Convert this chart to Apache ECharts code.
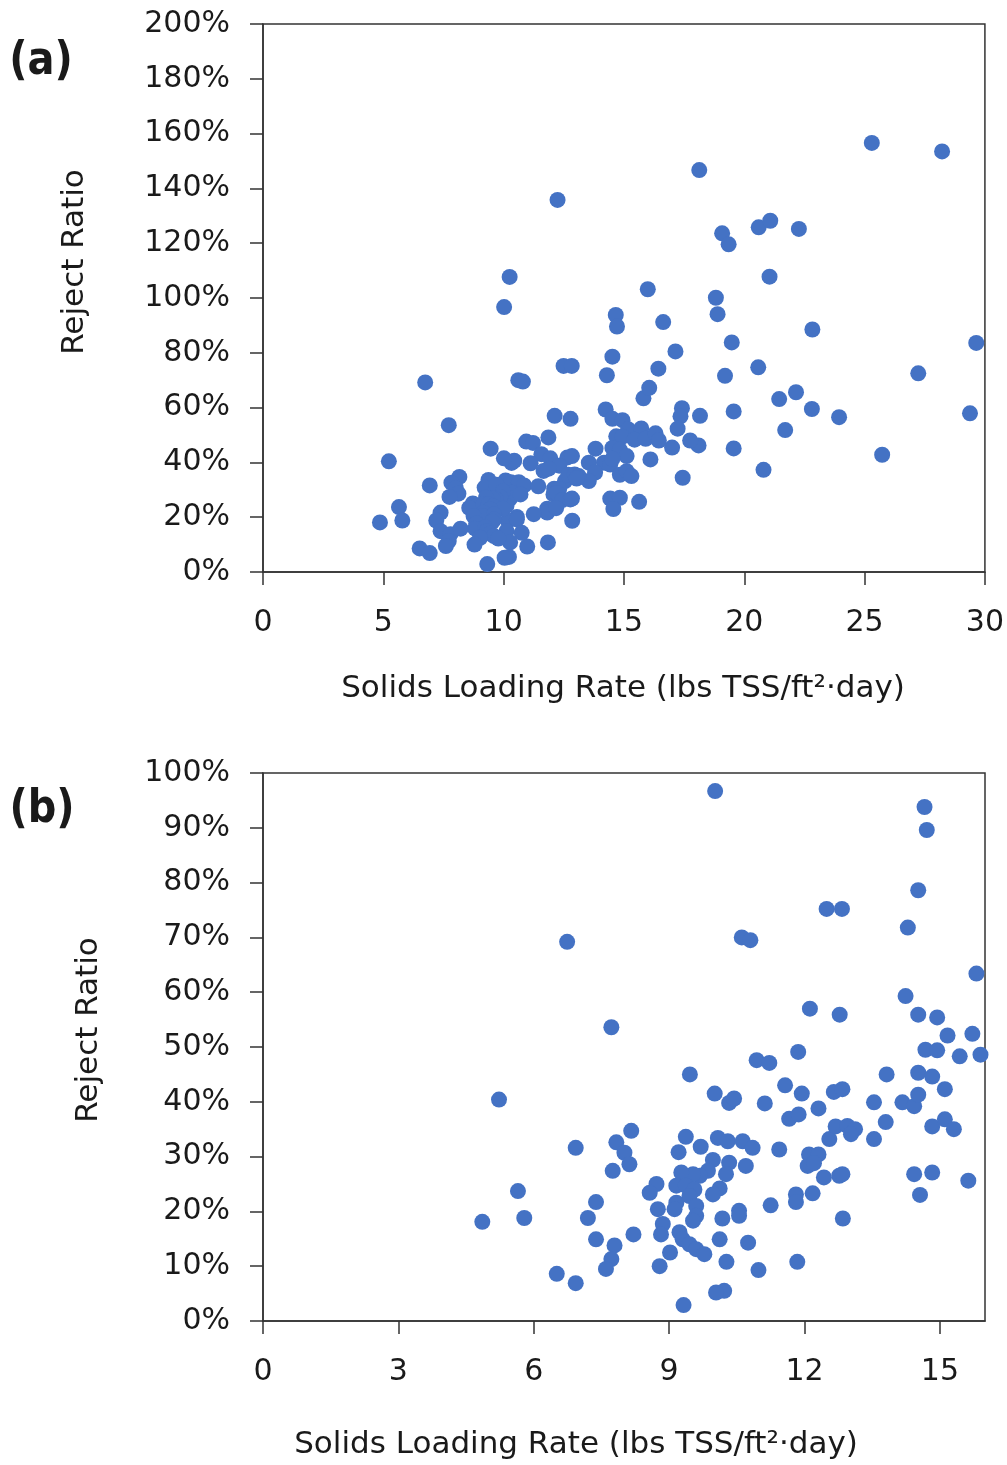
<!DOCTYPE html>
<html>
<head>
<meta charset="utf-8">
<title>Reject ratio vs solids loading rate</title>
<script src="https://cdn.jsdelivr.net/npm/echarts@6/dist/echarts.min.js"></script>
<style>
	html, body { margin: 0; padding: 0; background: #fff; }
	#chart { width: 1007px; height: 1465px; }
</style>
</head>
<body>
<div id="chart"></div>
<script>
	// solids loading rate (lbs TSS/ft2-day) (b) where possible
	const loadingRate = [
		10.02, 6.74, 7.72, 14.66, 14.71, 14.52, 12.49, 12.83, 10.61, 10.80,
		14.29, 15.81, 12.12, 12.78, 14.24, 14.52, 14.94, 15.17, 15.72, 11.86,
		10.94, 11.22, 14.68, 14.94, 15.44, 15.90, 13.82, 14.52, 14.83, 15.11,
		11.57, 11.94, 12.65, 12.84, 10.33, 10.44, 11.12, 12.31, 13.54, 14.17,
		14.43, 14.52, 11.66, 11.87, 13.80, 13.54, 14.83, 15.11, 15.31, 12.55,
		12.69, 12.95, 13.12, 13.03, 10.08, 10.30, 10.63, 10.85, 11.44, 12.10,
		12.31, 12.07, 12.21, 12.43, 12.77, 12.84, 14.43, 14.83, 15.63, 14.56,
		10.33, 10.26, 10.70, 10.12, 11.81, 11.81, 12.18, 11.25, 10.55, 10.18,
		10.55, 12.85, 10.12, 10.75, 10.27, 10.98, 11.84, 10.22, 9.46, 10.01,
		5.23, 8.16, 7.83, 8.01, 8.12, 7.75, 6.93, 9.37, 9.21, 9.70,
		9.97, 9.86, 9.68, 9.53, 9.27, 8.72, 8.57, 9.16, 9.37, 9.56,
		9.97, 9.45, 9.16, 9.12, 8.75, 9.60, 9.60, 9.53, 8.86, 8.82,
		9.23, 9.30, 9.45, 9.60, 9.78, 9.02, 8.79, 10.04, 9.32, 5.65,
		5.79, 4.86, 7.38, 7.20, 7.38, 7.79, 7.72, 7.60, 8.21, 6.51,
		6.93
	]
	// reject ratio (%) for the points above
	const rejectRatio = [
		96.7, 69.2, 53.6, 93.8, 89.6, 78.6, 75.2, 75.2, 70.0, 69.5,
		71.8, 63.4, 57.0, 55.9, 59.3, 55.9, 55.4, 52.1, 52.4, 49.1,
		47.6, 47.1, 49.5, 49.4, 48.3, 48.6, 45.0, 45.3, 44.6, 42.3,
		43.0, 41.5, 41.8, 42.3, 39.8, 40.6, 39.7, 38.8, 39.9, 39.9,
		39.2, 41.3, 36.9, 37.7, 36.3, 33.2, 35.5, 36.8, 35.0, 33.2,
		35.5, 35.6, 35.0, 34.1, 33.4, 32.8, 32.8, 31.6, 31.3, 30.4,
		30.4, 28.3, 28.8, 26.2, 26.5, 26.8, 26.8, 27.1, 25.6, 23.0,
		28.9, 26.8, 28.3, 24.2, 23.1, 21.7, 23.3, 21.1, 20.1, 18.7,
		19.2, 18.7, 14.9, 14.3, 10.8, 9.3, 10.8, 5.5, 45.0, 41.5,
		40.4, 34.7, 32.6, 30.7, 28.6, 27.4, 31.6, 33.6, 30.8, 31.8,
		29.4, 27.4, 26.5, 26.8, 27.1, 25.0, 23.4, 24.7, 24.7, 24.0,
		23.1, 22.8, 21.6, 20.4, 20.4, 21.0, 19.2, 18.3, 17.7, 15.8,
		16.2, 14.9, 14.0, 13.1, 12.2, 12.5, 10.0, 5.2, 2.9, 23.7,
		18.8, 18.1, 21.7, 18.8, 14.9, 13.8, 11.3, 9.5, 15.8, 8.6,
		6.9
	]
	// points only visible in panel (a): beyond 16 or above 100%
	const loadingRateHigh = [
		12.24, 10.25, 15.99, 18.13, 25.30, 28.22, 19.08, 19.35, 20.60, 21.08,
		22.27, 21.05, 18.82, 18.89, 16.63, 22.83, 19.48, 29.64, 17.14, 16.43,
		19.20, 20.58, 27.23, 16.05, 21.45, 22.15, 22.81, 23.94, 29.38, 17.41,
		17.35, 17.23, 18.16, 19.56, 21.70, 16.31, 16.45, 17.00, 16.10, 18.10,
		17.75, 19.56, 17.44, 20.80, 25.73
	]
	const rejectRatioHigh = [
		135.8, 107.7, 103.2, 146.7, 156.6, 153.5, 123.6, 119.6, 125.8, 128.2,
		125.2, 107.8, 100.1, 94.1, 91.2, 88.5, 83.8, 83.6, 80.5, 74.2,
		71.6, 74.7, 72.5, 67.2, 63.1, 65.6, 59.5, 56.5, 57.9, 59.8,
		56.8, 52.3, 57.0, 58.6, 51.8, 50.6, 48.0, 45.4, 41.1, 46.2,
		48.0, 45.1, 34.4, 37.3, 42.8
	]

	const xTicksA = [0, 5, 10, 15, 20, 25, 30]
	const xTicksB = [0, 3, 6, 9, 12, 15]

	const xTitle = 'Solids Loading Rate (lbs TSS/ft²·day)'
	const yTitle = 'Reject Ratio'

	const points = loadingRate.map((x, i) => [x, rejectRatio[i]])
		.concat(loadingRateHigh.map((x, i) => [x, rejectRatioHigh[i]]))

	const font = 'DejaVu Sans'
	const ink = '#1a1a1a'
	const lineColor = '#333'

	function xAxis(gridIndex, max, ticks) {
		return {
			type: 'value',
			gridIndex: gridIndex,
			min: 0,
			max: max,
			splitLine: { show: false },
			axisLine: { show: true, lineStyle: { color: lineColor, width: 1.5 } },
			axisTick: { show: true, length: 13, customValues: ticks, lineStyle: { color: lineColor, width: 1.5 } },
			axisLabel: {
				customValues: ticks,
				margin: 36,
				color: ink,
				fontFamily: font,
				fontSize: 30
			}
		}
	}

	function yAxis(gridIndex, max, interval) {
		return {
			type: 'value',
			gridIndex: gridIndex,
			min: 0,
			max: max,
			interval: interval,
			splitLine: { show: false },
			axisLine: { show: true, lineStyle: { color: lineColor, width: 1.5 } },
			axisTick: { show: true, length: 13, lineStyle: { color: lineColor, width: 1.5 } },
			axisLabel: {
				margin: 33,
				color: ink,
				fontFamily: font,
				fontSize: 30,
				formatter: (v) => v + '%'
			}
		}
	}

	function text(str, x, y, size, extra) {
		return Object.assign({
			type: 'text',
			x: x,
			y: y,
			style: {
				text: str,
				fill: ink,
				fontFamily: font,
				fontSize: size,
				align: 'center',
				verticalAlign: 'middle'
			}
		}, extra || {})
	}

	function panelLabel(str, x, y) {
		const g = text(str, x, y, 40, { scaleY: 1.15 })
		g.style.fontWeight = 'bold'
		return g
	}

	const chart = echarts.init(document.getElementById('chart'), null, { renderer: 'canvas' })

	chart.setOption({
		animation: false,
		backgroundColor: '#fff',
		grid: [
			{ left: 263, right: 22, top: 24, height: 548, show: true, borderColor: lineColor, borderWidth: 1.5 },
			{ left: 263, right: 22, top: 773, height: 548, show: true, borderColor: lineColor, borderWidth: 1.5 }
		],
		xAxis: [xAxis(0, 30, xTicksA), xAxis(1, 16, xTicksB)],
		yAxis: [yAxis(0, 200, 20), yAxis(1, 100, 10)],
		series: [0, 1].map((i) => ({
			type: 'scatter',
			xAxisIndex: i,
			yAxisIndex: i,
			clip: true,
			symbolSize: 16,
			itemStyle: { color: '#4472C4', opacity: 1 },
			data: points
		})),
		graphic: [
			panelLabel('(a)', 41, 62),
			panelLabel('(b)', 42, 810),
			text(yTitle, 75, 262, 31, { rotation: Math.PI / 2 }),
			text(yTitle, 89, 1030, 31, { rotation: Math.PI / 2 }),
			text(xTitle, 623, 689, 31),
			text(xTitle, 576, 1445, 31)
		]
	})
</script>
</body>
</html>
